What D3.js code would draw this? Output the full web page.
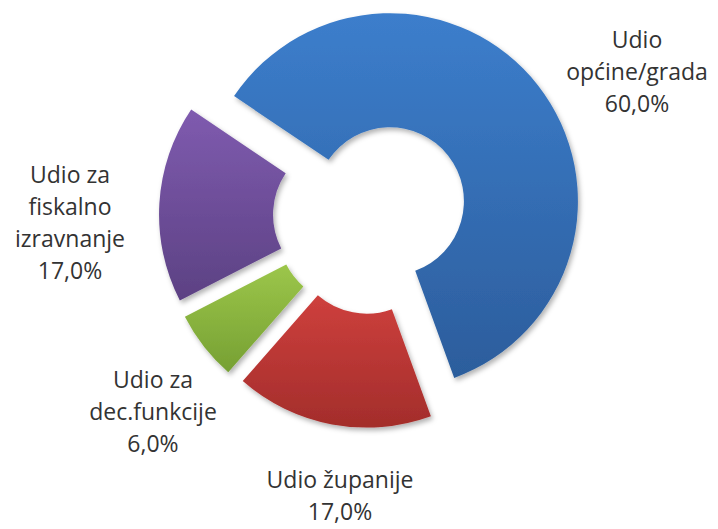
<!DOCTYPE html>
<html>
<head>
<meta charset="utf-8">
<script src="https://cdn.jsdelivr.net/npm/d3@7"></script>
<style>
  html, body { margin: 0; padding: 0; background: #fff; }
  svg { display: block; }
</style>
</head>
<body>
<svg id="chart" width="718" height="529"></svg>
<script>
// ---- data ----
const categories = ["Udio općine/grada", "Udio županije", "Udio za dec.funkcije", "Udio za fiskalno izravnanje"];
const values = [60.0, 17.0, 6.0, 17.0];
const labelLines = [
  ["Udio", "općine/grada", "60,0%"],
  ["Udio županije", "17,0%"],
  ["Udio za", "dec.funkcije", "6,0%"],
  ["Udio za", "fiskalno", "izravnanje", "17,0%"]
];

// ---- style / layout ----
const colorsTop = ["#3C7ECC", "#CE403D", "#9CC64A", "#7F5BAF"];
const colorsBottom = ["#2C5D9C", "#A32D2B", "#76A033", "#5C4183"];
const cx = 371, cy = 216;
const outerR = 188, innerR = 74, explode = 24;
const startDeg = -56;
const labelPos = [[637, 48], [340, 488], [153, 388], [70, 183]]; // first-line baselines
const lineH = 32;

const svg = d3.select("#chart");
const defs = svg.append("defs");

const f = defs.append("filter").attr("id", "shadow")
  .attr("x", "-20%").attr("y", "-20%").attr("width", "140%").attr("height", "140%");
f.append("feDropShadow").attr("dx", 2).attr("dy", 3).attr("stdDeviation", 2.5)
  .attr("flood-color", "#000").attr("flood-opacity", 0.3);

categories.forEach((c, i) => {
  const g = defs.append("linearGradient").attr("id", "grad" + i)
    .attr("x1", 0).attr("y1", 0).attr("x2", 0).attr("y2", 1);
  g.append("stop").attr("offset", "0%").attr("stop-color", colorsTop[i]);
  g.append("stop").attr("offset", "100%").attr("stop-color", colorsBottom[i]);
});

const pie = d3.pie().sort(null).value(d => d)
  .startAngle(startDeg * Math.PI / 180)
  .endAngle(startDeg * Math.PI / 180 + 2 * Math.PI);
const arcs = pie(values);
const arc = d3.arc().innerRadius(innerR).outerRadius(outerR);

const gChart = svg.append("g").attr("transform", `translate(${cx},${cy})`);
gChart.selectAll("path.slice").data(arcs).enter().append("path")
  .attr("class", "slice")
  .attr("d", arc)
  .attr("fill", (d, i) => `url(#grad${i})`)
  .attr("filter", "url(#shadow)")
  .attr("transform", d => {
    const m = (d.startAngle + d.endAngle) / 2;
    return `translate(${explode * Math.sin(m)},${-explode * Math.cos(m)})`;
  });

// labels
const gLab = svg.append("g")
  .attr("font-family", "'Open Sans', 'Noto Sans', sans-serif")
  .attr("font-size", 23)
  .attr("fill", "#333")
  .attr("text-anchor", "middle");
labelLines.forEach((lines, i) => {
  const t = gLab.append("text").attr("x", labelPos[i][0]).attr("y", labelPos[i][1]);
  lines.forEach((ln, j) => {
    t.append("tspan").attr("x", labelPos[i][0]).attr("dy", j === 0 ? 0 : lineH).text(ln);
  });
});
</script>
</body>
</html>
